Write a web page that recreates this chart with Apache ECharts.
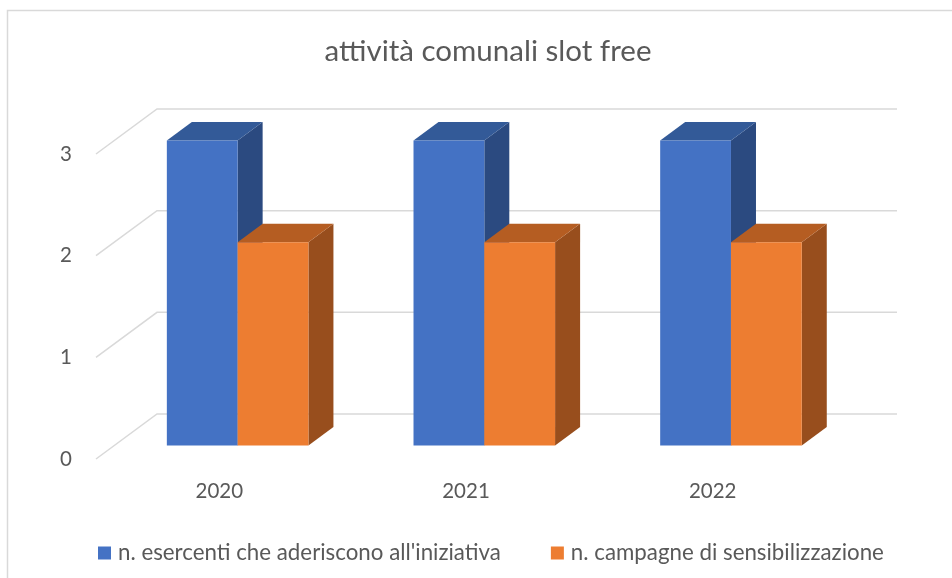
<!DOCTYPE html>
<html lang="it">
<head>
<meta charset="UTF-8">
<title>attività comunali slot free</title>
<script src="https://cdn.jsdelivr.net/npm/echarts@6.0.0/dist/echarts.min.js"></script>
<style>
  body { margin: 0; padding: 0; background: #fff; }
  #chart { width: 952px; height: 578px; }
</style>
</head>
<body>
<div id="chart"></div>
<script>
// dati
var years = ['2020', '2021', '2022'];
var esercenti = [3, 3, 3];
var campagne = [2, 2, 2];
var yTicks = [0, 1, 2, 3];
var seriesNames = ["n. esercenti che aderiscono all'iniziativa", 'n. campagne di sensibilizzazione'];

// profondità prospettica (pixel) della parete di fondo
var DX = 61, DY = -45;
var BAR_FRONT = 0.3, BAR_DEPTH = 0.41, BAR_W = 0.287;
var FONT = 'Lato, "Open Sans", sans-serif';

var chart = echarts.init(document.getElementById('chart'));

function gridItem(params, api) {
  var cs = params.coordSys;
  var y = api.coord([0, api.value(0)])[1];
  return {
    type: 'polyline',
    shape: { points: [[cs.x, y], [cs.x + DX, y + DY], [cs.x + cs.width + DX, y + DY]] },
    style: { stroke: '#d9d9d9', lineWidth: 1.5, fill: null },
    silent: true
  };
}

// barra 3D: facce laterale, superiore e frontale
function makeBar(side, colors) {
  return function (params, api) {
    var cat = api.value(0);
    var base = api.coord([cat, 0]);
    var top = api.coord([cat, api.value(1)]);
    var w = api.size([1, 0])[0] * BAR_W;
    var xl = base[0] + side * w + BAR_FRONT * DX;
    var xr = xl + w;
    var yt = top[1] + BAR_FRONT * DY;
    var yb = base[1] + BAR_FRONT * DY;
    var ox = BAR_DEPTH * DX, oy = BAR_DEPTH * DY;
    return {
      type: 'group',
      children: [
        {
          type: 'polygon',
          shape: { points: [[xr, yt], [xr + ox, yt + oy], [xr + ox, yb + oy], [xr, yb]] },
          style: { fill: colors[2] }
        },
        {
          type: 'polygon',
          shape: { points: [[xl, yt], [xr, yt], [xr + ox, yt + oy], [xl + ox, yt + oy]] },
          style: { fill: colors[1] }
        },
        {
          type: 'rect',
          shape: { x: xl, y: yt, width: w, height: yb - yt },
          style: { fill: colors[0] }
        }
      ]
    };
  };
}

var blue = ['#4472c4', '#335a98', '#2b4a80'];
var orange = ['#ed7d31', '#b55d22', '#984e1d'];

chart.setOption({
  animation: false,
  backgroundColor: '#fff',
  graphic: [{
    type: 'rect',
    shape: { x: 7.5, y: 10.5, width: 1000, height: 700 },
    style: { fill: null, stroke: '#d9d9d9', lineWidth: 1.5 },
    z: -10
  }],
  title: {
    text: 'attività comunali slot free',
    left: 483,
    top: 31,
    textAlign: 'center',
    textStyle: { fontFamily: FONT, fontSize: 29.5, fontWeight: 'normal', color: '#595959' }
  },
  legend: {
    data: seriesNames,
    left: 93,
    top: 537,
    icon: 'rect',
    itemWidth: 13,
    itemHeight: 13,
    itemGap: 50,
    textStyle: { fontFamily: FONT, fontSize: 22.3, lineHeight: 22, color: '#595959', padding: [0, 0, 0, 2] }
  },
  grid: { left: 96, right: 116, top: 154, bottom: 119 },
  xAxis: {
    type: 'category',
    data: years,
    axisLine: { show: false },
    axisTick: { show: false },
    axisLabel: { margin: 22, fontFamily: FONT, fontSize: 20.5, color: '#595959' }
  },
  yAxis: {
    type: 'value',
    min: 0,
    max: 3,
    interval: 1,
    axisLine: { show: false },
    axisTick: { show: false },
    splitLine: { show: false },
    axisLabel: { margin: 24, fontFamily: FONT, fontSize: 20.5, color: '#595959' }
  },
  series: [
    {
      type: 'custom',
      name: 'grid',
      renderItem: gridItem,
      data: yTicks.map(function (v) { return [v]; }),
      encode: { y: 0 },
      silent: true,
      z: 1
    },
    {
      type: 'custom',
      name: seriesNames[0],
      renderItem: makeBar(-1, blue),
      itemStyle: { color: blue[0] },
      data: years.map(function (y, i) { return [i, esercenti[i]]; }),
      encode: { x: 0, y: 1 },
      z: 2
    },
    {
      type: 'custom',
      name: seriesNames[1],
      renderItem: makeBar(0, orange),
      itemStyle: { color: orange[0] },
      data: years.map(function (y, i) { return [i, campagne[i]]; }),
      encode: { x: 0, y: 1 },
      z: 3
    }
  ]
});
</script>
</body>
</html>
